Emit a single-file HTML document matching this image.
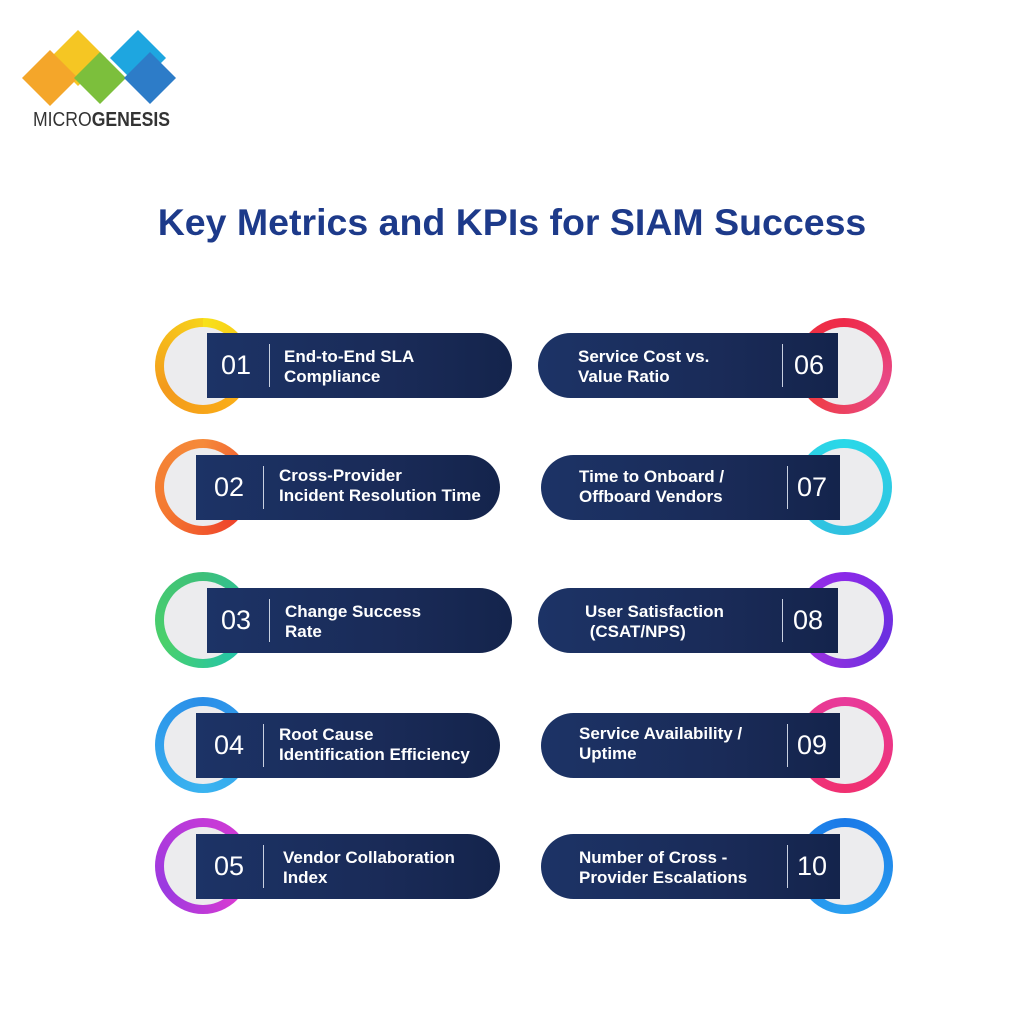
<!DOCTYPE html>
<html><head><meta charset="utf-8"><style>
body{margin:0;width:1024px;height:1024px;background:#fff;position:relative;overflow:hidden;font-family:"Liberation Sans",sans-serif}
.ring{position:absolute;width:96px;height:96px;border-radius:50%;box-sizing:border-box}
.ring::after{content:"";position:absolute;left:9px;top:9px;right:9px;bottom:9px;border-radius:50%;background:#ececee}
.pill{position:absolute;height:65px;background:linear-gradient(90deg,#1c3366,#1a2b58 60%,#14244c);color:#fff;box-sizing:border-box}
.L{border-radius:0 33px 33px 0}
.R{border-radius:33px 0 0 33px}
.num{position:absolute;top:0;line-height:65px;font-size:27px;font-weight:300}
.div{position:absolute;top:11px;width:1px;height:43px;background:#c8d0e0}
.txt{position:absolute;top:14px;font-size:17px;font-weight:bold;line-height:20px;white-space:nowrap}
.t{position:absolute;top:201px;left:0;width:1024px;text-align:center;font-size:37.5px;font-weight:bold;color:#1d3a8a}
</style></head><body>
<svg style="position:absolute;left:0;top:0" width="200" height="140">
<polygon points="78,30 106,58 78,86 50,58" fill="#f5c623"/>
<polygon points="138,30 166,58 138,86 110,58" fill="#1ea6e0"/>
<polygon points="50,50 78,78 50,106 22,78" fill="#f4a62a"/>
<polygon points="100,52 126,78 100,104 74,78" fill="#7cbf3c"/>
<polygon points="150,52 176,78 150,104 124,78" fill="#2d7cc8"/>
<text x="33" y="126" font-family="Liberation Sans" font-size="20" fill="#333" textLength="137" lengthAdjust="spacingAndGlyphs">MICRO<tspan font-weight="bold">GENESIS</tspan></text>
</svg>
<div class="t">Key Metrics and KPIs for SIAM Success</div>

<div class="ring" style="left:155px;top:318px;background:conic-gradient(#f7e21a,#fbb016,#f39a1c,#f7d21a)"></div>
<div class="pill L" style="left:207px;top:333px;width:305px"><span class="num" style="left:14px">01</span><span class="div" style="left:62px"></span><span class="txt" style="left:77px">End-to-End SLA<br>Compliance</span></div>

<div class="ring" style="left:155px;top:439px;background:conic-gradient(#f58a3a,#ee3b2a,#f47a30,#f58a3a)"></div>
<div class="pill L" style="left:196px;top:455px;width:304px"><span class="num" style="left:18px">02</span><span class="div" style="left:67px"></span><span class="txt" style="left:83px;top:11px">Cross-Provider<br>Incident Resolution Time</span></div>

<div class="ring" style="left:155px;top:572px;background:conic-gradient(#3ec07a,#1fc3b0,#4bd06a,#3ec07a)"></div>
<div class="pill L" style="left:207px;top:588px;width:305px"><span class="num" style="left:14px">03</span><span class="div" style="left:62px"></span><span class="txt" style="left:78px">Change Success<br>Rate</span></div>

<div class="ring" style="left:155px;top:697px;background:conic-gradient(#2a8ee8,#3ab4f0,#2a8ee8)"></div>
<div class="pill L" style="left:196px;top:713px;width:304px"><span class="num" style="left:18px">04</span><span class="div" style="left:67px"></span><span class="txt" style="left:83px;top:12px">Root Cause<br>Identification Efficiency</span></div>

<div class="ring" style="left:155px;top:818px;background:conic-gradient(#c23ad8,#e03ad0,#9a3ae0,#c23ad8)"></div>
<div class="pill L" style="left:196px;top:834px;width:304px"><span class="num" style="left:18px">05</span><span class="div" style="left:67px"></span><span class="txt" style="left:87px">Vendor Collaboration<br>Index</span></div>

<div class="ring" style="left:796px;top:318px;background:conic-gradient(#ee2a4a,#e84a8a,#f03a3a,#ee2a4a)"></div>
<div class="pill R" style="left:538px;top:333px;width:300px"><span class="txt" style="left:40px">Service Cost vs.<br>Value Ratio</span><span class="div" style="left:244px"></span><span class="num" style="left:256px">06</span></div>

<div class="ring" style="left:796px;top:439px;background:conic-gradient(#2ad8e8,#30c0e0,#2ad8e8)"></div>
<div class="pill R" style="left:541px;top:455px;width:299px"><span class="txt" style="left:38px;top:12px">Time to Onboard /<br>Offboard Vendors</span><span class="div" style="left:246px"></span><span class="num" style="left:256px">07</span></div>

<div class="ring" style="left:797px;top:572px;background:conic-gradient(#8a2ae8,#6a30e0,#a030e0,#8a2ae8)"></div>
<div class="pill R" style="left:538px;top:588px;width:300px"><span class="txt" style="left:47px">User Satisfaction<br>&nbsp;(CSAT/NPS)</span><span class="div" style="left:244px"></span><span class="num" style="left:255px">08</span></div>

<div class="ring" style="left:797px;top:697px;background:conic-gradient(#e83a9a,#f03070,#e83a9a)"></div>
<div class="pill R" style="left:541px;top:713px;width:299px"><span class="txt" style="left:38px;top:11px">Service Availability /<br>Uptime</span><span class="div" style="left:246px"></span><span class="num" style="left:256px">09</span></div>

<div class="ring" style="left:797px;top:818px;background:conic-gradient(#1a7ae8,#2aa0f0,#1a7ae8)"></div>
<div class="pill R" style="left:541px;top:834px;width:299px"><span class="txt" style="left:38px">Number of Cross -<br>Provider Escalations</span><span class="div" style="left:246px"></span><span class="num" style="left:256px">10</span></div>
</body></html>
